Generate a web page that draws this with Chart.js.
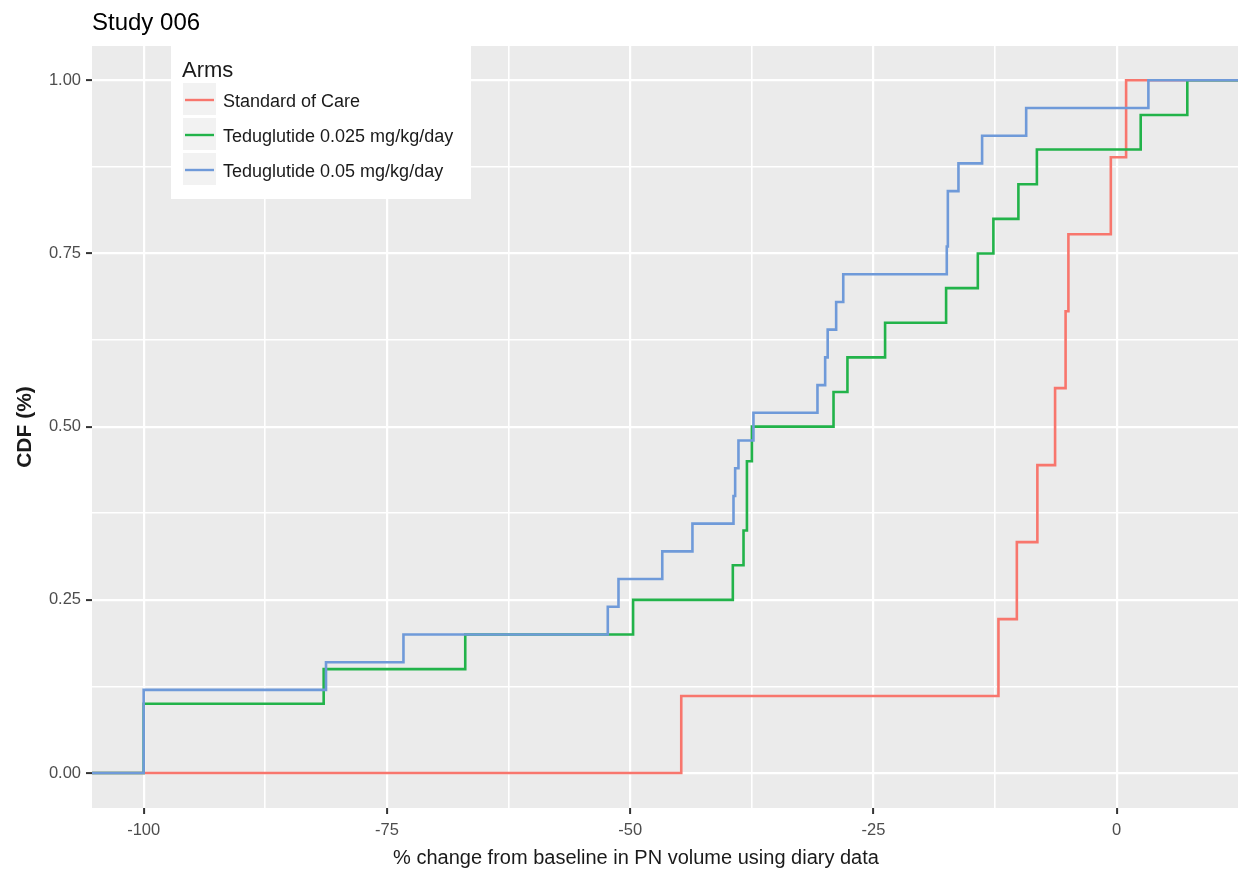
<!DOCTYPE html>
<html>
<head>
<meta charset="utf-8">
<script src="https://cdn.jsdelivr.net/npm/chart.js@4.4.0/dist/chart.umd.min.js"></script>
<style>
  html, body { margin: 0; padding: 0; background: #fff; }
  canvas { display: block; }
</style>
</head>
<body>
<canvas id="cdf" width="1238" height="869"></canvas>
<script>
// % change from baseline in PN volume, one value per subject
const armNames = ['Standard of Care', 'Teduglutide 0.025 mg/kg/day', 'Teduglutide 0.05 mg/kg/day']
const armColors = ['#f8766d', '#22b34a', '#6f9ad9']

const standardOfCare = [-44.75, -12.15, -10.26, -8.15, -6.33, -5.25, -4.96, -0.6, 0.97]
const tedu025 = [-100, -100, -81.5, -66.95, -49.7, -39.45, -38.35, -38.0, -38.0, -37.49,
  -29.1, -27.67, -23.8, -17.53, -14.27, -12.67, -10.1, -8.2, 2.47, 7.26]
const tedu05 = [-100, -100, -100, -81.26, -73.3, -52.3, -51.2, -46.7, -43.6, -39.38,
  -39.21, -38.87, -37.33, -30.75, -29.96, -29.7, -28.83, -28.1, -17.46, -17.35,
  -17.35, -16.26, -13.83, -9.3, 3.26]

const xTicks = [-100, -87.5, -75, -62.5, -50, -37.5, -25, -12.5, 0]
const yTicks = [0, 0.125, 0.25, 0.375, 0.5, 0.625, 0.75, 0.875, 1]

const xMin = -105.31
const xMax = 12.47

// empirical CDF, padded out to both panel edges
function ecdf(values) {
  const sorted = [...values].sort((a, b) => a - b)
  const n = sorted.length
  const pts = [{ x: xMin, y: 0 }]
  sorted.forEach((v, i) => pts.push({ x: v, y: (i + 1) / n }))
  pts.push({ x: xMax, y: 1 })
  return pts
}

const isMajorX = v => Math.abs(v % 25) < 1e-9
const isMajorY = v => Math.abs(v * 4 - Math.round(v * 4)) < 1e-9

const panelPlugin = {
  id: 'panel',
  beforeDraw(chart) {
    const { ctx, chartArea: a } = chart
    ctx.save()
    ctx.fillStyle = '#ffffff'
    ctx.fillRect(0, 0, chart.width, chart.height)
    ctx.fillStyle = '#ebebeb'
    ctx.fillRect(a.left, a.top, a.right - a.left, a.bottom - a.top)
    ctx.restore()
  },
  afterDraw(chart) {
    const { ctx, chartArea: a } = chart
    ctx.save()
    ctx.fillStyle = '#000'
    ctx.textAlign = 'left'
    ctx.textBaseline = 'alphabetic'
    ctx.font = '24px "Liberation Sans", Arial, sans-serif'
    ctx.fillText('Study 006', 92, 30)

    ctx.fillStyle = '#1a1a1a'
    ctx.textAlign = 'center'
    ctx.font = '20px "Liberation Sans", Arial, sans-serif'
    ctx.fillText('% change from baseline in PN volume using diary data', 636, 864)

    ctx.translate(25, (a.top + a.bottom) / 2)
    ctx.rotate(-Math.PI / 2)
    ctx.textBaseline = 'middle'
    ctx.font = 'bold 21px "Liberation Sans", Arial, sans-serif'
    ctx.fillText('CDF (%)', 0, 0)
    ctx.restore()

    // legend box
    ctx.save()
    ctx.fillStyle = '#ffffff'
    ctx.fillRect(171, 40, 300, 159)
    ctx.fillStyle = '#1a1a1a'
    ctx.font = '22px "Liberation Sans", Arial, sans-serif'
    ctx.textAlign = 'left'
    ctx.textBaseline = 'alphabetic'
    ctx.fillText('Arms', 182, 77)
    chart.data.datasets.forEach((ds, i) => {
      const top = 83 + i * 35
      ctx.fillStyle = '#f2f2f2'
      ctx.fillRect(183, top, 33, 32)
      ctx.strokeStyle = ds.borderColor
      ctx.lineWidth = 2.4
      ctx.beginPath()
      ctx.moveTo(185, top + 17)
      ctx.lineTo(214, top + 17)
      ctx.stroke()
      ctx.fillStyle = '#1a1a1a'
      ctx.font = '18px "Liberation Sans", Arial, sans-serif'
      ctx.textBaseline = 'middle'
      ctx.fillText(ds.label, 223, top + 19)
      ctx.textBaseline = 'alphabetic'
    })
    ctx.restore()
  }
}

const series = [standardOfCare, tedu025, tedu05]

new Chart(document.getElementById('cdf'), {
  type: 'line',
  data: {
    datasets: series.map((vals, i) => ({
      label: armNames[i],
      data: ecdf(vals),
      borderColor: armColors[i],
      backgroundColor: armColors[i],
      borderWidth: 2.6,
      pointRadius: 0,
      stepped: true,
      fill: false,
      order: 3 - i
    }))
  },
  options: {
    responsive: false,
    animation: false,
    layout: { padding: { top: 46, left: 0, right: 0, bottom: 0 } },
    plugins: {
      legend: { display: false },
      title: { display: false },
      tooltip: { enabled: false }
    },
    scales: {
      x: {
        type: 'linear',
        min: xMin,
        max: xMax,
        afterBuildTicks: scale => { scale.ticks = xTicks.map(v => ({ value: v })) },
        afterFit: scale => { scale.height = 61 },
        border: { display: false },
        grid: {
          color: '#ffffff',
          lineWidth: ctx => isMajorX(ctx.tick.value) ? 2.2 : 1.6,
          drawTicks: true,
          tickLength: 6,
          tickColor: ctx => isMajorX(ctx.tick.value) ? '#333333' : 'rgba(0,0,0,0)',
          tickWidth: 2
        },
        ticks: {
          autoSkip: false,
          maxRotation: 0,
          padding: 7,
          color: '#4d4d4d',
          font: { family: '"Liberation Sans", Arial, sans-serif', size: 16.5 },
          callback: v => isMajorX(v) ? String(v) : ''
        }
      },
      y: {
        type: 'linear',
        min: -0.0505,
        max: 1.0495,
        afterBuildTicks: scale => { scale.ticks = yTicks.map(v => ({ value: v })) },
        afterFit: scale => { scale.width = 92 },
        border: { display: false },
        grid: {
          color: '#ffffff',
          lineWidth: ctx => isMajorY(ctx.tick.value) ? 2.2 : 1.6,
          drawTicks: true,
          tickLength: 6,
          tickColor: ctx => isMajorY(ctx.tick.value) ? '#333333' : 'rgba(0,0,0,0)',
          tickWidth: 2
        },
        ticks: {
          autoSkip: false,
          padding: 5,
          color: '#4d4d4d',
          font: { family: '"Liberation Sans", Arial, sans-serif', size: 16.5 },
          callback: v => isMajorY(v) ? v.toFixed(2) : ''
        }
      }
    }
  },
  plugins: [panelPlugin]
})
</script>
</body>
</html>
